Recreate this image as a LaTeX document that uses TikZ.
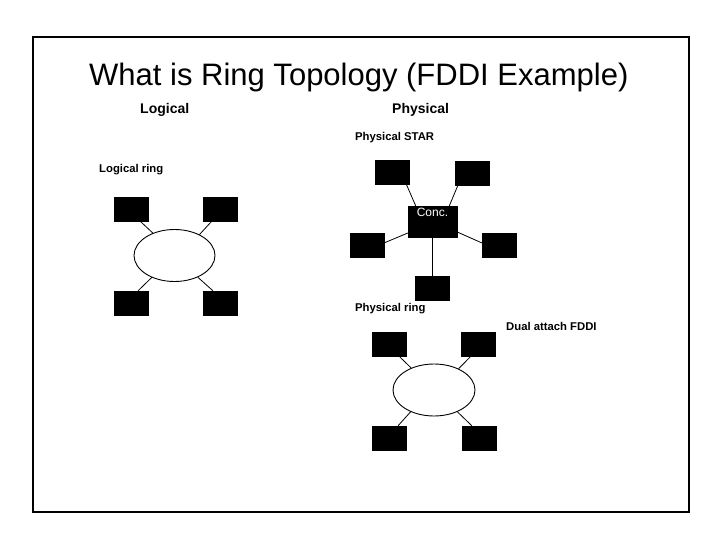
\documentclass[tikz,border=0pt]{standalone}
\usepackage{fontspec}
\setmainfont{Liberation Sans}
\usetikzlibrary{shapes.geometric}

\begin{document}
\begin{tikzpicture}[
    x=1pt, y=-1pt,
    station/.style={draw=black, fill=black, minimum width=34pt, minimum height=24pt, inner sep=0pt},
    ring/.style={draw=black, line width=0.9pt, ellipse, minimum width=81pt, minimum height=52pt, inner sep=0pt},
    conc/.style={draw=black, fill=black, text=white, minimum width=49pt, inner xsep=0pt, inner ysep=3pt,
      text height=8pt, text depth=17pt, font=\fontsize{12}{14}\selectfont},
    link/.style={draw=black, line width=0.8pt},
    head/.style={anchor=base west, font=\fontsize{14}{16}\selectfont\bfseries},
    lbl/.style={anchor=base west, font=\fontsize{11.3}{13}\selectfont\bfseries}
  ]
    \useasboundingbox (0,0) rectangle (720,540);
    \draw[line width=1.3pt] (33,37) rectangle (689,512);

    % titles
    \node[anchor=base west, inner sep=0pt, font=\fontsize{31}{37}\selectfont] (title) at (89,86) {What is Ring Topology (FDDI Example)};
    \node[head, inner sep=0pt] (logical) at (140,114) {Logical};
    \node[head, inner sep=0pt] (physical) at (392,114) {Physical};

    % logical ring
    \node[lbl, inner sep=0pt] (lring) at (99,173) {Logical ring};
    \node[ring] (lr) at (174.5,255.5) {};
    \node[station] (l1) at (131,209) {};
    \node[station] (l2) at (220,209) {};
    \node[station] (l3) at (131,303) {};
    \node[station] (l4) at (220,303) {};
    \draw[link] (l1.-53) -- (lr.134);
    \draw[link] (l2.-124) -- (lr.40);
    \draw[link] (l3.60) -- (lr.-136);
    \draw[link] (l4.120) -- (lr.-43);

    % physical star
    \node[lbl, inner sep=0pt] (pstar) at (355,141) {Physical STAR};
    \node[conc] (cc) at (432.5,221.5) {Conc.};
    \node[station] (s1) at (392,172.5) {};
    \node[station] (s2) at (472.5,173) {};
    \node[station] (s3) at (367,245) {};
    \node[station] (s4) at (499,245) {};
    \node[station] (s5) at (432.5,288.5) {};
    \draw[link] (s1.-40) -- (cc.137);
    \draw[link] (s2.-140) -- (cc.43);
    \draw[link] (s3.7) -- (cc.-155);
    \draw[link] (s4.173) -- (cc.-23);
    \draw[link] (cc.south) -- (s5.north);

    % physical ring
    \node[lbl, inner sep=0pt] (pring) at (355,311) {Physical ring};
    \node[lbl, inner sep=0pt] (dual) at (506,330) {Dual attach FDDI};
    \node[ring, minimum width=82pt] (pr) at (434,390) {};
    \node[station] (p1) at (389.5,344) {};
    \node[station] (p2) at (478,344) {};
    \node[station] (p3) at (389.5,438) {};
    \node[station] (p4) at (479.5,438) {};
    \draw[link] (p1.-52) -- (pr.136);
    \draw[link] (p2.-120) -- (pr.41);
    \draw[link] (p3.55) -- (pr.-137);
    \draw[link] (p4.122) -- (pr.-43);
  \end{tikzpicture}
\end{document}
